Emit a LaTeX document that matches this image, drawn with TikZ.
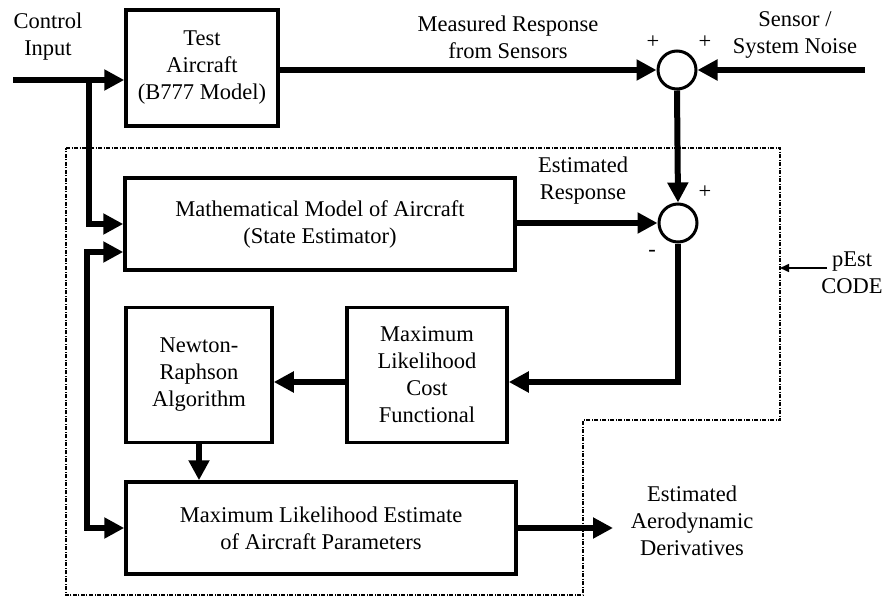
\documentclass[tikz,border=0pt]{standalone}
\usepackage{fontspec}
\setmainfont{Liberation Serif}
\usetikzlibrary{arrows.meta}
\usetikzlibrary{positioning}
\tikzset{
    bigtri/.tip={Triangle[length=20pt,width=20pt]},
}
\tikzset{
    blk/.style={
           draw, line width=3.5pt,
           align=center,
           inner sep=2pt,
           },
}
\tikzset{
    sum/.style={
           circle,
           draw, line width=3pt,
           minimum size=38pt, inner sep=0pt,
           },
}
\tikzset{
    sig/.style={
           line width=6pt,
           -bigtri,
           },
}
\tikzset{
    lbl/.style={
           align=center,
           inner sep=0pt,
           },
}

\begin{document}
\begin{tikzpicture}[x=1pt,y=-1pt,font=\fontsize{22.5}{27}\selectfont]
\useasboundingbox (0,0) rectangle (886,599);
\node[blk,minimum width=152pt,minimum height=116pt](test) at (202,68){Test\\Aircraft\\(B777 Model)};
\node[blk,minimum width=390pt,minimum height=92pt](model) at (320,224){Mathematical Model of Aircraft\\(State Estimator)};
\node[blk,minimum width=146pt,minimum height=135pt](newton) at (199,375){Newton-\\Raphson\\Algorithm};
\node[blk,minimum width=160pt,minimum height=135pt](mlc) at (427,375){Maximum\\Likelihood\\Cost\\Functional};
\node[blk,minimum width=390pt,minimum height=92pt](mle) at (321,528){Maximum Likelihood Estimate\\of Aircraft Parameters};
\node[sum](sum1) at (677,70){};
\node[sum](sum2) at (678,223){};
\coordinate (in) at (13,80);
\coordinate (br) at (89,80);
\coordinate (noise) at (865,70);
\coordinate (out) at (613,528);
\coordinate (pest) at (780,268);
\node[lbl](ctl) at (48,37){Control\\Input};
\node[lbl](meas) at (508,37){Measured Response\\from Sensors};
\node[lbl](sens) at (795,35){Sensor /\\System Noise};
\node[lbl](p1) at (653,42){+};
\node[lbl](p2) at (705,42){+};
\node[lbl](p3) at (705,192){+};
\node[lbl](m1) at (652,253){-};
\node[lbl](est) at (583,181){Estimated\\Response};
\node[lbl](code) at (852,273){pEst\\CODE};
\node[lbl](der) at (692,521){Estimated\\Aerodynamic\\Derivatives};
\draw[line width=1.5pt,dash pattern=on 4pt off 1.5pt on 1pt off 1.5pt] (66,148) -- (780,148) -- (780,420) -- (583,420) -- (583,595) -- (66,595) -- cycle;
\draw[sig] (in) -- (in -| test.west);
\draw[sig] (br) |- (model.west);
\draw[sig] (test.east |- sum1.west) -- (sum1.west);
\draw[sig] (noise) -- (sum1.east);
\draw[sig] (sum1.south) -- (sum2.north);
\draw[sig] (model.east |- sum2.west) -- (sum2.west);
\draw[sig] (sum2.south) |- ([yshift=-7pt]mlc.east);
\draw[sig] ([yshift=-7pt]mlc.west) -- ([yshift=-7pt]newton.east);
\draw[sig] (newton.south) -- (newton.south |- mle.north);
\draw[sig] (mle.east) -- (out);
\draw[sig,bigtri-bigtri] ([yshift=-28pt]model.west) -- ++(-36,0) |- (mle.west);
\draw[line width=1.5pt,-{Triangle[length=9pt,width=8pt]}] (827,268) -- (pest);
\end{tikzpicture}
\end{document}
